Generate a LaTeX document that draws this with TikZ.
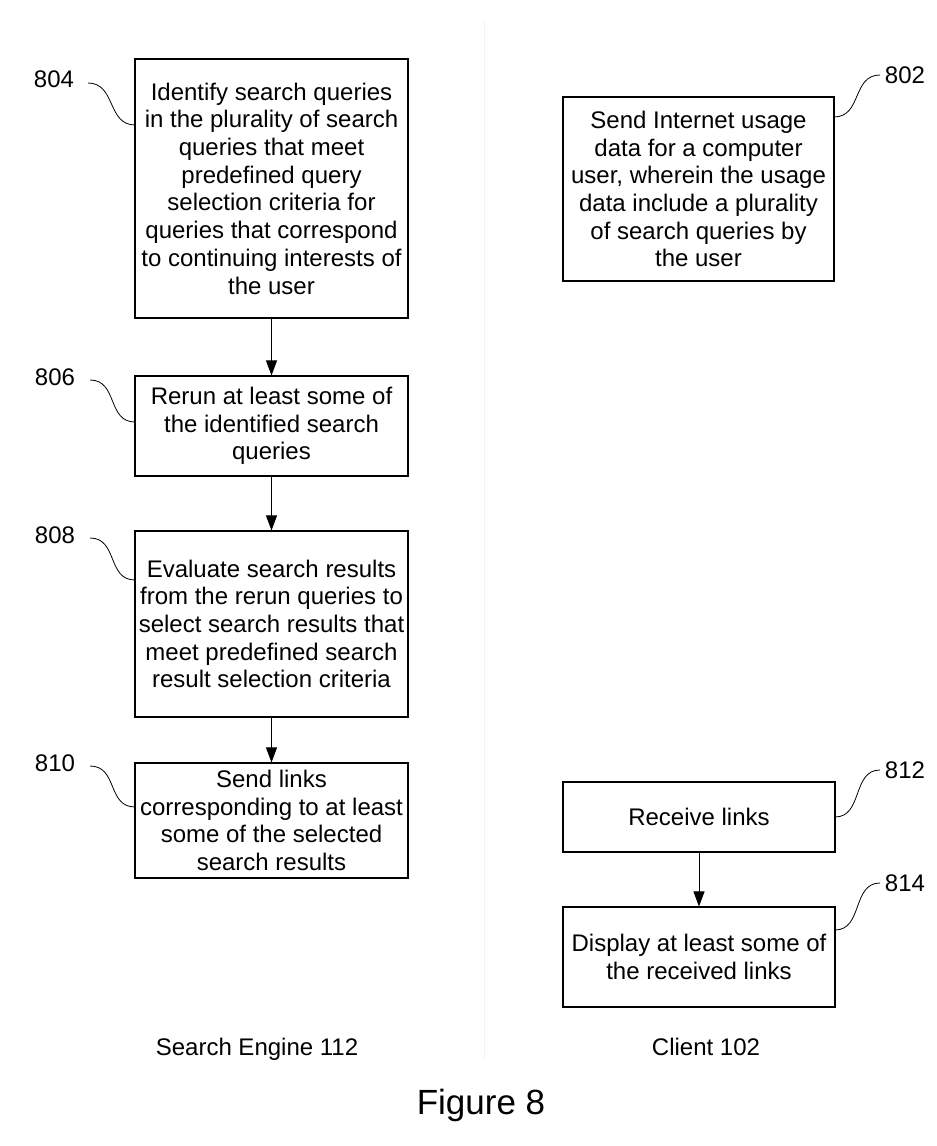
\documentclass[tikz,border=0pt]{standalone}
\usepackage{fontspec}
\setmainfont{Liberation Sans}
\usetikzlibrary{arrows.meta}
\tikzset{
  box/.style={draw=black, line width=1.1pt, inner sep=0pt, align=center,
    font=\fontsize{24}{27.7}\selectfont},
  lbl/.style={inner sep=0pt, font=\fontsize{24}{27.7}\selectfont},
  arr/.style={line width=1pt, -{Triangle[width=11pt,length=15pt]}},
  squig/.style={line width=0.8pt},
  divider/.style={line width=1pt, draw=black!5}
}
\begin{document}
\begin{tikzpicture}[x=1pt,y=-1pt]
\useasboundingbox (0,0) rectangle (937,1146);
\draw[divider] (484,20) coordinate (dtop) -- (484,1060) coordinate (dbot);

% left column boxes
\node[box, minimum width=273pt, minimum height=259pt] (b804) at (271.5,188.5)
  {Identify search queries\\in the plurality of search\\queries that meet\\predefined query\\selection criteria for\\queries that correspond\\to continuing interests of\\the user};
\node[box, minimum width=273pt, minimum height=100pt] (b806) at (271.5,426)
  {Rerun at least some of\\the identified search\\queries};
\node[box, minimum width=273pt, minimum height=186pt] (b808) at (271.5,624)
  {Evaluate search results\\from the rerun queries to\\select search results that\\meet predefined search\\result selection criteria};
\node[box, minimum width=273pt, minimum height=115pt] (b810) at (271.5,820.5)
  {Send links\\corresponding to at least\\some of the selected\\search results};

% right column boxes
\node[box, minimum width=271pt, minimum height=184pt] (b802) at (698.5,189)
  {Send Internet usage\\data for a computer\\user, wherein the usage\\data include a plurality\\of search queries by\\the user};
\node[box, minimum width=272pt, minimum height=70pt] (b812) at (699,817)
  {Receive links};
\node[box, minimum width=272pt, minimum height=100pt] (b814) at (699,957)
  {Display at least some of\\the received links};

% arrows
\draw[arr] (b804) -- (b806);
\draw[arr] (b806) -- (b808);
\draw[arr] (b808) -- (b810);
\draw[arr] (b812) -- (b814);

% reference labels
\node[lbl] (l804) at (54,79) {804};
\node[lbl] (l806) at (55,377) {806};
\node[lbl] (l808) at (55,535) {808};
\node[lbl] (l810) at (55,763) {810};
\node[lbl] (l802) at (905,75) {802};
\node[lbl] (l812) at (905,770) {812};
\node[lbl] (l814) at (905,883) {814};

% label leaders
\coordinate (s804) at (88,83);  \coordinate (e804) at (135,125);
\coordinate (s806) at (90,380); \coordinate (e806) at (135,422);
\coordinate (s808) at (90,538); \coordinate (e808) at (135,580);
\coordinate (s810) at (90,766); \coordinate (e810) at (135,807);
\coordinate (s802) at (834,117); \coordinate (e802) at (880,75);
\coordinate (s812) at (835,817); \coordinate (e812) at (880,770);
\coordinate (s814) at (835,930); \coordinate (e814) at (880,883);
\foreach \n in {804,806,808,810,802,812,814}
  \draw[squig] (s\n) .. controls +(28,0) and +(-28,0) .. (e\n);

% lane titles
\node[lbl] (se) at (257,1049) {Search Engine 112};
\node[lbl] (cl) at (706,1047) {Client 102};
\node[inner sep=0pt, font=\fontsize{35}{40}\selectfont] (fig) at (481,1105) {Figure 8};
\end{tikzpicture}
\end{document}
